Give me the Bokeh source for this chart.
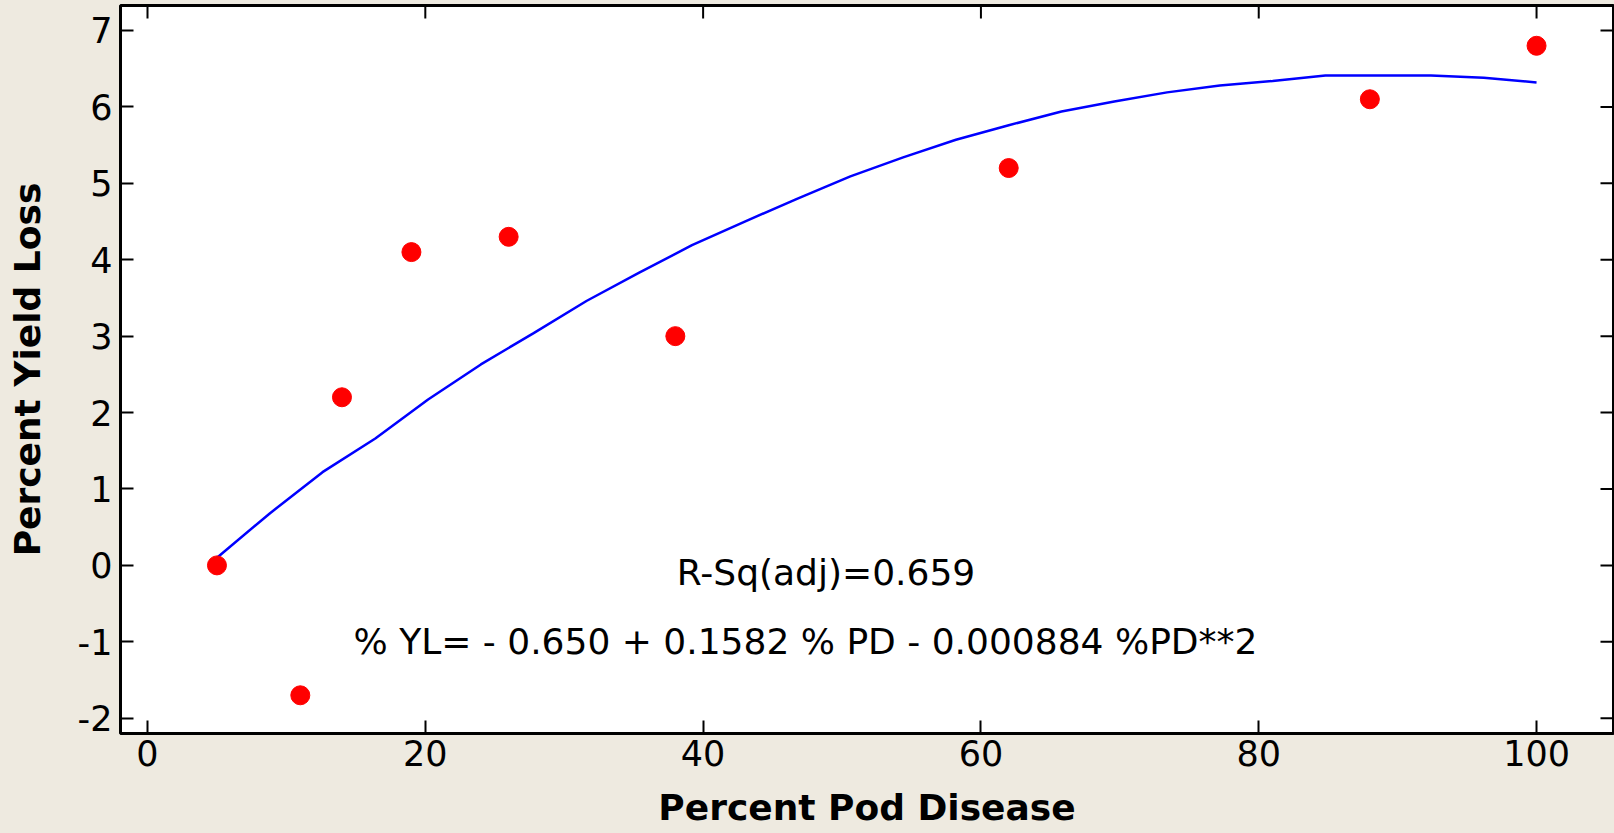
import math
from bokeh.plotting import figure
from bokeh.models import Range1d, Label, FixedTicker, ColumnDataSource
from bokeh.embed import file_html
from bokeh.resources import INLINE

# ---- data ----
pod_disease = [5, 11, 14, 19, 26, 38, 62, 88, 100]
yield_loss = [0.0, -1.7, 2.2, 4.1, 4.3, 3.0, 5.2, 6.1, 6.8]

fit_x = [5.0, 8.8, 12.6, 16.4, 20.2, 24.0, 27.8, 31.6, 35.4, 39.2, 43.0, 46.8, 50.6,
         54.4, 58.2, 62.0, 65.8, 69.6, 73.4, 77.2, 81.0, 84.8, 88.6, 92.4, 96.2, 100.0]
fit_y = [0.10, 0.68, 1.22, 1.66, 2.17, 2.63, 3.04, 3.46, 3.83, 4.19, 4.50, 4.80, 5.09,
         5.34, 5.57, 5.76, 5.94, 6.07, 6.19, 6.28, 6.34, 6.41, 6.41, 6.41, 6.38, 6.32]

x_ticks = [0, 20, 40, 60, 80, 100]
y_ticks = [-2, -1, 0, 1, 2, 3, 4, 5, 6, 7]
y_tick_labels = {t: str(t) for t in y_ticks}

x_label = "Percent Pod Disease"
y_label = "Percent Yield Loss"
rsq_text = "R-Sq(adj)=0.659"
eq_text = "% YL= - 0.650 + 0.1582 % PD - 0.000884 %PD**2"

BG = "#eeeae0"
FONT = "DejaVu Sans"

X_START, X_END = -1.944, 105.54
Y_START, Y_END = -2.2, 7.327

p = figure(width=1614, height=833, output_backend="svg", toolbar_location=None,
           x_range=Range1d(X_START, X_END), y_range=Range1d(Y_START, Y_END),
           min_border_left=120, min_border_right=1, min_border_top=5, min_border_bottom=100)

p.background_fill_color = "white"
p.border_fill_color = BG
p.outline_line_color = "black"
p.outline_line_width = 3
p.grid.visible = False

src_pts = ColumnDataSource(dict(x=pod_disease, y=yield_loss))
src_fit = ColumnDataSource(dict(x=fit_x, y=fit_y))

p.line("x", "y", source=src_fit, line_color="#0000ff", line_width=2.5)
p.scatter("x", "y", source=src_pts, size=19, fill_color="#ff0000", line_color="#ff0000")

# mirrored inward ticks on the top and right frame edges
p.ray(x=x_ticks, y=[Y_END] * len(x_ticks), length=13, length_units="screen",
      angle=-math.pi / 2, line_color="black", line_width=2)
p.ray(x=[X_END] * len(y_ticks), y=y_ticks, length=13, length_units="screen",
      angle=math.pi, line_color="black", line_width=2)

def style_axis(ax, ticks):
    ax.ticker = FixedTicker(ticks=ticks)
    ax.axis_line_color = None
    ax.major_tick_in = 13
    ax.major_tick_out = 0
    ax.major_tick_line_width = 2
    ax.major_tick_line_color = "black"
    ax.minor_tick_line_color = None
    ax.major_label_text_font = FONT
    ax.major_label_text_font_size = "35px"
    ax.major_label_text_color = "black"
    ax.axis_label_text_font = FONT
    ax.axis_label_text_font_style = "bold"
    ax.axis_label_text_font_size = "36px"
    ax.axis_label_text_color = "black"

xa = p.xaxis[0]
ya = p.yaxis[0]
style_axis(xa, x_ticks)
style_axis(ya, y_ticks)
ya.major_label_overrides = y_tick_labels
xa.axis_label = x_label
ya.axis_label = y_label
xa.major_label_standoff = 6
xa.axis_label_standoff = 18
ya.major_label_standoff = 8
ya.axis_label_standoff = 27

p.add_layout(Label(x=38.1, y=-0.094, text=rsq_text, text_font=FONT, text_font_size="36px",
                   text_color="black", text_align="left", text_baseline="alphabetic"))
p.add_layout(Label(x=14.83, y=-0.997, text=eq_text, text_font=FONT, text_font_size="36px",
                   text_color="black", text_align="left", text_baseline="alphabetic"))

template = ("{% block postamble %}<style>html, body { background: " + BG +
            "; overflow: hidden; }</style>{% endblock %}")
open("out.html", "w").write(file_html(p, INLINE, template=template))
